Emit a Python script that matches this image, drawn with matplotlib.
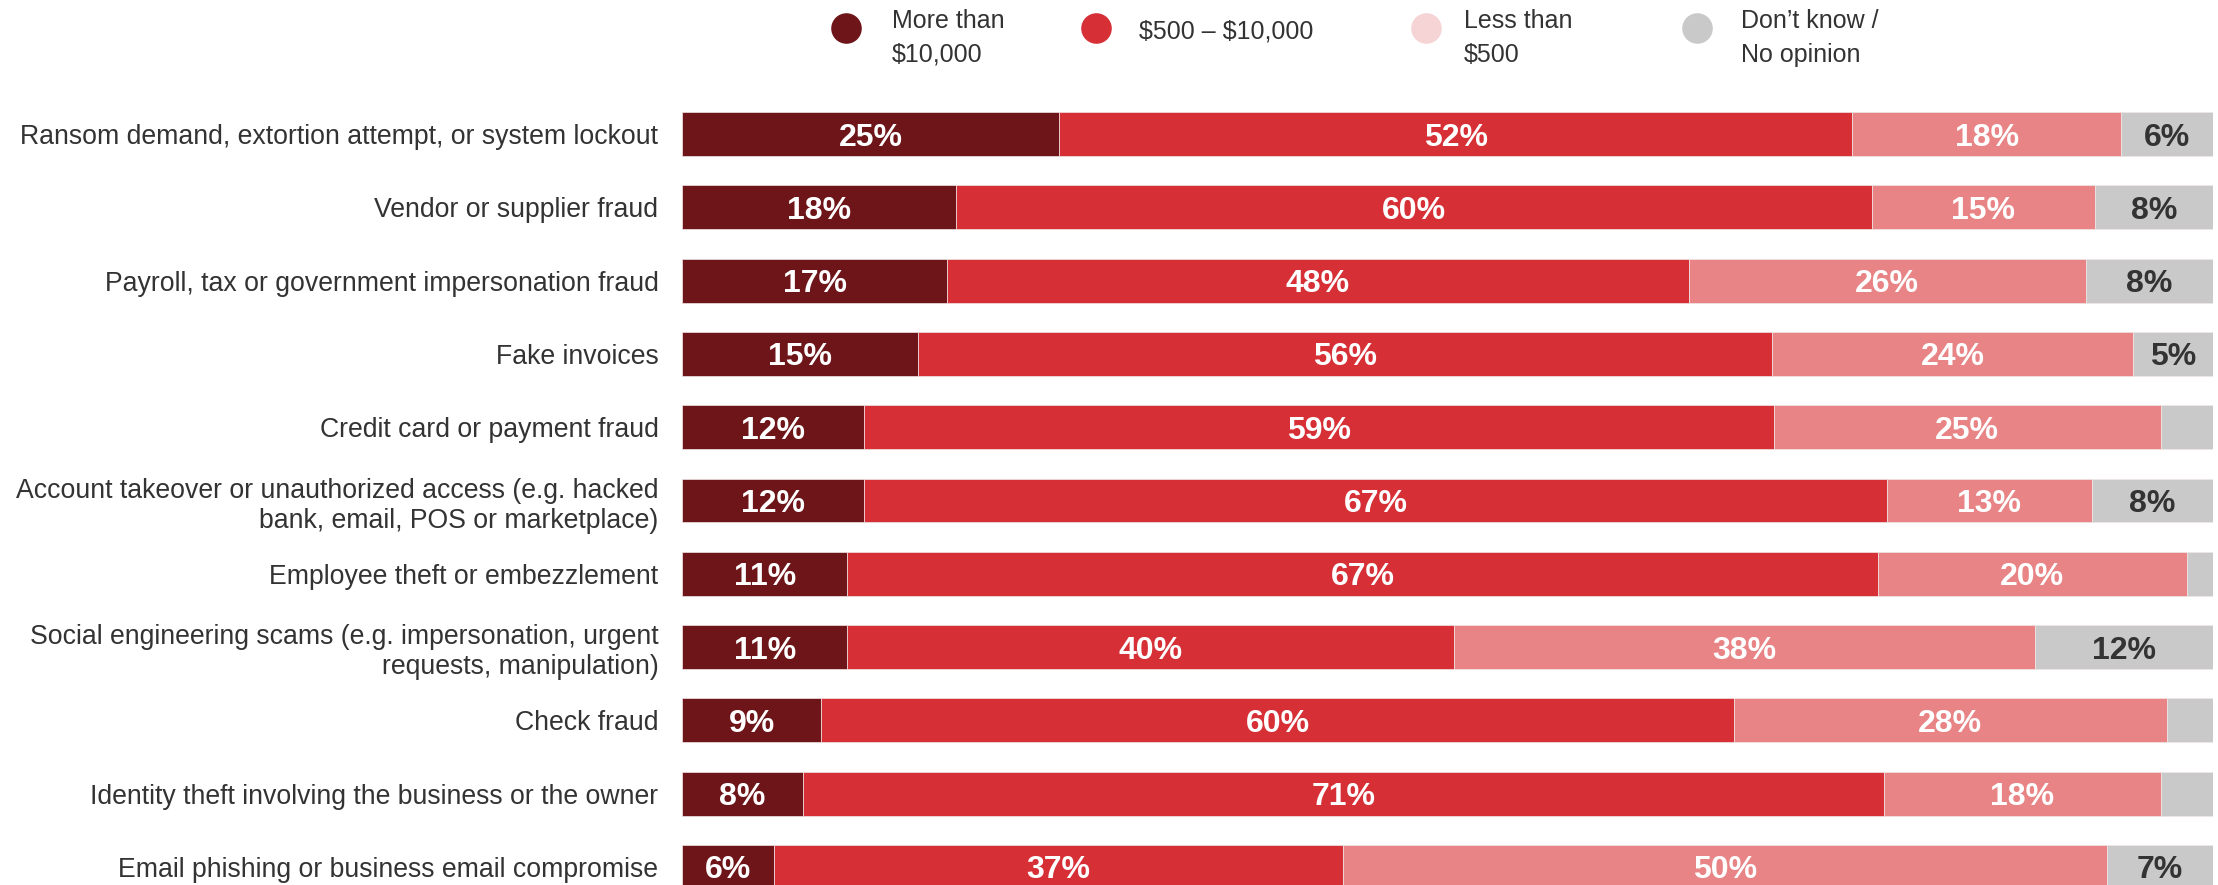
import matplotlib.pyplot as plt
import numpy as np
from matplotlib.lines import Line2D

categories = [
    'Ransom demand, extortion attempt, or system lockout',
    'Vendor or supplier fraud',
    'Payroll, tax or government impersonation fraud',
    'Fake invoices',
    'Credit card or payment fraud',
    'Account takeover or unauthorized access (e.g. hacked\nbank, email, POS or marketplace)',
    'Employee theft or embezzlement',
    'Social engineering scams (e.g. impersonation, urgent\nrequests, manipulation)',
    'Check fraud',
    'Identity theft involving the business or the owner',
    'Email phishing or business email compromise',
]

# shares in percent (labels are the rounded values)
more_10k = [24.7, 17.9, 17.3, 15.4, 11.9, 11.9, 10.8, 10.8, 9.1, 7.9, 6.0]
mid_500_10k = [51.9, 59.8, 48.4, 55.8, 59.4, 66.7, 67.3, 39.6, 59.6, 70.6, 37.2]
less_500 = [17.6, 14.6, 25.9, 23.6, 25.3, 13.4, 20.2, 38.0, 28.3, 18.1, 49.9]
dont_know = [6.0, 7.7, 8.3, 5.2, 3.4, 7.9, 1.7, 11.6, 3.0, 3.4, 6.9]

series_names = ['More than\n\\$10,000', '\\$500 \u2013 \\$10,000', 'Less than\n\\$500', 'Don\u2019t know /\nNo opinion']
bar_colors = ['#6D1519', '#D62F36', '#E88485', '#C9C9C9']
legend_colors = ['#6D1519', '#D62F36', '#F6D4D5', '#C9C9C9']
text_colors = ['white', 'white', 'white', '#333333']

plt.rcParams['font.family'] = ['Liberation Sans', 'DejaVu Sans']

W, H = 2218, 885
fig = plt.figure(figsize=(W / 100, H / 100), dpi=100)

# axes placed in pixel terms; the last row runs off the bottom like the original
row_px = 73.3
first_center = 134
n = len(categories)
top_px = first_center - 0.5 * row_px
bot_px = first_center + (n - 0.5) * row_px
left_px, right_px = 682, 2213
ax = fig.add_axes([left_px / W, (H - bot_px) / H, (right_px - left_px) / W, (bot_px - top_px) / H])

data = np.array([more_10k, mid_500_10k, less_500, dont_know], dtype=float)
shares = data / data.sum(axis=0) * 100
y = np.arange(n)
left = np.zeros(n)
for i in range(4):
    ax.barh(y, shares[i], left=left, height=0.6, color=bar_colors[i],
            edgecolor='#F0E6E6', linewidth=0.5)
    for j in range(n):
        label = int(round(data[i, j]))
        if label >= 5:
            ax.text(left[j] + shares[i, j] / 2, y[j], f'{label}%',
                    ha='center', va='center_baseline', fontsize=23, fontweight='bold',
                    color=text_colors[i])
    left += shares[i]

ax.set_xlim(0, 100)
ax.set_ylim(n - 0.5, -0.5)
ax.set_yticks(y)
ax.set_yticklabels(categories, fontsize=19.2, color='#333333')
ax.tick_params(axis='y', length=0, pad=17)
ax.set_xticks([])
for s in ax.spines.values():
    s.set_visible(False)

# legend row at the top
leg_marker_x = [846, 1096, 1426, 1697]
leg_text_x = [892, 1139, 1464, 1741]
for mx, tx, name, c in zip(leg_marker_x, leg_text_x, series_names, legend_colors):
    fig.add_artist(Line2D([mx / W], [1 - 28 / H], marker='o', markersize=21,
                          color=c, linestyle='none', transform=fig.transFigure))
    two_line = '\n' in name
    fig.text(tx / W, 1 - (38 if two_line else 32) / H, name, ha='left', va='center',
             fontsize=18, color='#333333', linespacing=1.5)

fig.savefig('out.png', dpi=100)
